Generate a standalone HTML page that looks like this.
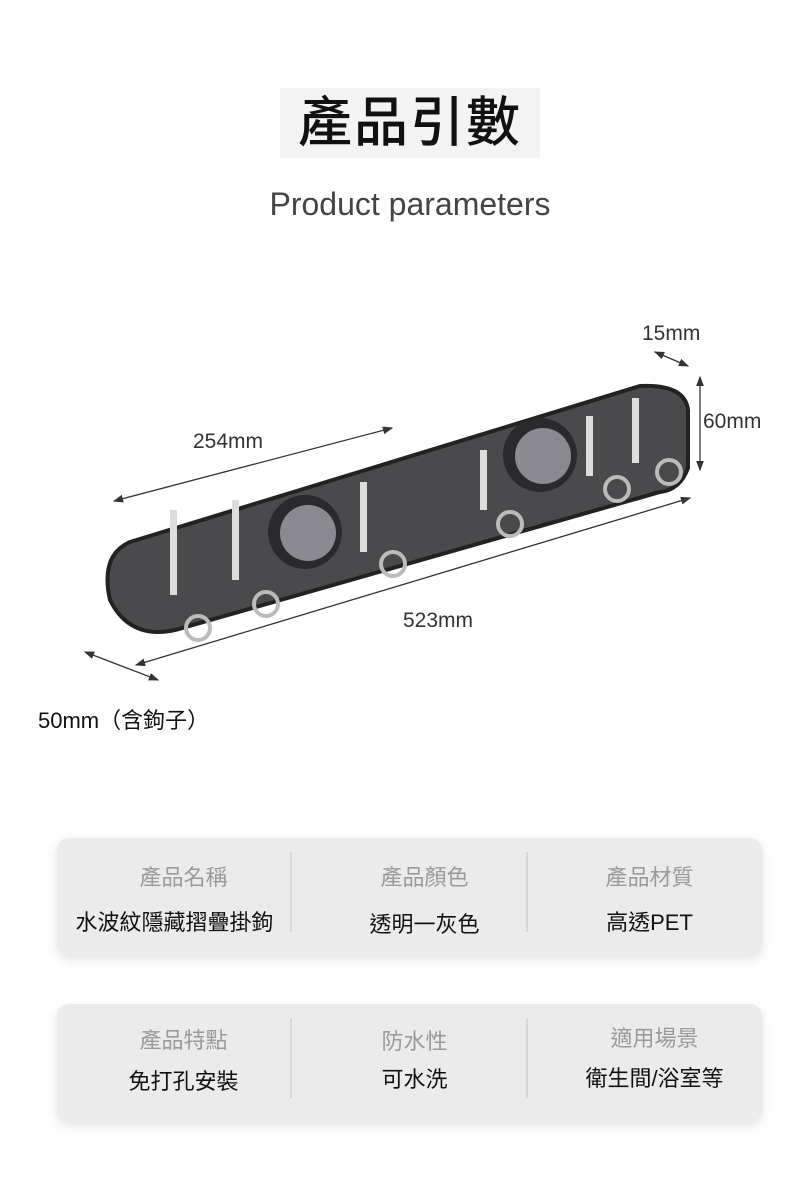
<!DOCTYPE html>
<html><head><meta charset="utf-8"><style>
body{margin:0;width:790px;height:1200px;background:#fff;position:relative;overflow:hidden;font-family:"Liberation Sans","Noto Sans CJK TC",sans-serif}
.a{position:absolute;white-space:nowrap}
.card{position:absolute;left:57px;width:705px;height:117px;background:#ebebeb;border-radius:12px;box-shadow:0 4px 10px rgba(0,0,0,.12)}
.div{position:absolute;top:14px;width:2px;height:80px;background:#d6d6d6}
.h{position:absolute;width:235px;text-align:center;font-size:22px;color:#9a9a9a}
.v{position:absolute;width:235px;text-align:center;font-size:22px;color:#111}
</style></head><body>
<div class="a" style="left:280px;top:88px;width:260px;height:70px;background:#f3f3f3"></div>
<div class="a" style="left:0;width:820px;top:88px;text-align:center;font-size:54px;font-weight:500;color:#111;line-height:70px;letter-spacing:2px">產品引數</div>
<div class="a" style="left:0;width:820px;top:186px;text-align:center;font-size:32px;color:#444">Product parameters</div>
<svg class="a" style="left:0;top:300px" width="790" height="400">
<defs><marker id="m" markerWidth="8" markerHeight="8" refX="7" refY="4" orient="auto"><path d="M0,1L8,4L0,7z" fill="#333"/></marker>
<marker id="s" markerWidth="8" markerHeight="8" refX="1" refY="4" orient="auto"><path d="M8,1L0,4L8,7z" fill="#333"/></marker></defs>
<g stroke="#333" stroke-width="1.3" marker-end="url(#m)" marker-start="url(#s)">
<line x1="114" y1="201" x2="392" y2="128"/>
<line x1="136" y1="365" x2="690" y2="198"/>
<line x1="85" y1="352" x2="158" y2="380"/>
<line x1="700" y1="77" x2="700" y2="170"/>
<line x1="655" y1="52" x2="688" y2="66"/>
</g>
<path d="M130,242 L640,86 Q685,84 688,110 L688,168 Q680,190 660,192 L175,330 Q130,340 110,300 Q100,255 130,242z" fill="#4a4a4c" stroke="#222" stroke-width="4"/>
<g fill="#ddd"><rect x="170" y="210" width="7" height="85"/><rect x="232" y="200" width="7" height="80"/><rect x="360" y="182" width="7" height="70"/><rect x="480" y="150" width="7" height="60"/><rect x="586" y="116" width="7" height="60"/><rect x="632" y="98" width="7" height="65"/></g>
<circle cx="305" cy="232" r="37" fill="#2a2a2c"/><circle cx="308" cy="233" r="28" fill="#8a8a90"/>
<circle cx="540" cy="155" r="37" fill="#2a2a2c"/><circle cx="543" cy="156" r="28" fill="#8a8a90"/>
<g fill="none" stroke="#bbb" stroke-width="4"><circle cx="198" cy="328" r="12"/><circle cx="266" cy="304" r="12"/><circle cx="393" cy="264" r="12"/><circle cx="510" cy="224" r="12"/><circle cx="617" cy="189" r="12"/><circle cx="669" cy="172" r="12"/></g>
<text x="193" y="148" font-size="21" fill="#333" font-family="Liberation Sans">254mm</text>
<text x="403" y="327" font-size="21" fill="#333" font-family="Liberation Sans">523mm</text>
<text x="642" y="40" font-size="21" fill="#333" font-family="Liberation Sans">15mm</text>
<text x="703" y="128" font-size="21" fill="#333" font-family="Liberation Sans">60mm</text>
</svg>
<div class="a" style="left:38px;top:703px;font-size:22px;color:#111">50mm（含鉤子）</div>
<div class="card" style="top:838px">
<div class="div" style="left:233px"></div><div class="div" style="left:469px"></div>
<div class="h" style="left:9px;top:22px">產品名稱</div><div class="v" style="left:0;top:67px">水波紋隱藏摺疊掛鉤</div>
<div class="h" style="left:250px;top:22px">產品顏色</div><div class="v" style="left:250px;top:69px">透明一灰色</div>
<div class="h" style="left:475px;top:22px">產品材質</div><div class="v" style="left:475px;top:67px">高透PET</div>
</div>
<div class="card" style="top:1004px">
<div class="div" style="left:233px"></div><div class="div" style="left:469px"></div>
<div class="h" style="left:9px;top:19px">產品特點</div><div class="v" style="left:9px;top:60px">免打孔安裝</div>
<div class="h" style="left:240px;top:20px">防水性</div><div class="v" style="left:240px;top:58px">可水洗</div>
<div class="h" style="left:480px;top:17px">適用場景</div><div class="v" style="left:480px;top:57px">衛生間/浴室等</div>
</div>
</body></html>
